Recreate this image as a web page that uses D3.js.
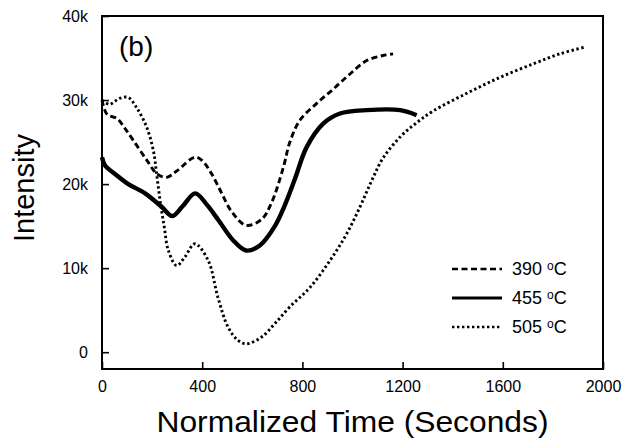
<!DOCTYPE html>
<html>
<head>
<meta charset="utf-8">
<script src="https://cdn.jsdelivr.net/npm/d3@7"></script>
<style>
  body { margin: 0; background: #fff; }
  svg { display: block; font-family: "Liberation Sans", Arial, Helvetica, sans-serif; }
  .axis text { font-size: 16px; fill: #000; }
  .axis line { stroke: #000; stroke-width: 1.6; }
</style>
</head>
<body>
<div id="chart"></div>
<script>
// ---- Data ----
const seriesNames = ['390 \u00B0C', '455 \u00B0C', '505 \u00B0C'];

// 390 oC (dashed)
const time390 = [0, 20, 60, 90, 125, 180, 220, 258, 300, 371, 400, 438, 478, 518, 575, 637, 677, 724, 750, 790, 857, 923, 990, 1057, 1122, 1162];
const int390  = [30000, 28300, 27800, 26700, 25200, 22800, 21200, 20800, 21600, 23200, 22800, 21200, 18900, 16700, 15100, 15800, 17800, 22000, 25000, 27600, 29600, 31300, 33100, 34700, 35300, 35500];

// 455 oC (solid)
const time455 = [0, 12, 52, 105, 172, 238, 280, 320, 372, 420, 465, 524, 575, 630, 690, 730, 770, 817, 883, 950, 1057, 1190, 1256];
const int455  = [23200, 22200, 21200, 20000, 18900, 17300, 16200, 17300, 18900, 17500, 15700, 13300, 12100, 12700, 15000, 17500, 20600, 24400, 27200, 28400, 28800, 28800, 28200];

// 505 oC (dotted)
const time505 = [0, 30, 70, 105, 140, 178, 205, 218, 232, 248, 265, 298, 330, 371, 424, 463, 503, 543, 577, 637, 690, 750, 830, 910, 977, 1030, 1075, 1122, 1190, 1256, 1322, 1456, 1589, 1721, 1828, 1928];
const int505  = [30000, 29500, 30200, 30300, 29000, 26800, 24000, 21200, 18000, 15000, 12100, 10300, 11300, 12900, 10900, 6500, 3000, 1400, 1000, 1800, 3400, 5400, 7700, 10900, 14100, 17300, 20300, 23100, 25600, 27300, 28700, 30800, 32700, 34300, 35500, 36300];

const xTicks = [0, 400, 800, 1200, 1600, 2000];
const yTicks = [0, 10000, 20000, 30000, 40000];

// ---- Layout ----
const width = 637, height = 440;
const plot = { left: 102, right: 603, top: 16, bottom: 369 };

const svg = d3.select('#chart')
    .append('svg')
    .attr('width', width)
    .attr('height', height);

const xScale = d3.scaleLinear().domain([0, 2000]).range([plot.left, plot.right]);
const yScale = d3.scaleLinear().domain([-2000, 40000]).range([plot.bottom, plot.top]);

// Axes (ticks point inward)
const xAxis = d3.axisBottom(xScale)
    .tickValues(xTicks)
    .tickSize(-7)
    .tickPadding(12)
    .tickFormat(d3.format('d'));

const yAxis = d3.axisLeft(yScale)
    .tickValues(yTicks)
    .tickSize(-7)
    .tickPadding(14)
    .tickFormat(d => d === 0 ? '0' : (d / 1000) + 'k');

svg.append('g')
    .attr('class', 'axis')
    .attr('transform', 'translate(0,' + plot.bottom + ')')
    .call(xAxis)
    .call(g => g.select('.domain').remove());

svg.append('g')
    .attr('class', 'axis')
    .attr('transform', 'translate(' + plot.left + ',0)')
    .call(yAxis)
    .call(g => g.select('.domain').remove());

// Frame
svg.append('rect')
    .attr('x', plot.left)
    .attr('y', plot.top)
    .attr('width', plot.right - plot.left)
    .attr('height', plot.bottom - plot.top)
    .attr('fill', 'none')
    .attr('stroke', '#000')
    .attr('stroke-width', 2);

// Lines
const lineGen = d3.line()
    .x(d => xScale(d[0]))
    .y(d => yScale(d[1]))
    .curve(d3.curveCatmullRom.alpha(0.5));

const styles = [
    { dash: '6,3.5', width: 2.9 },
    { dash: null, width: 4.4 },
    { dash: '2.4,2.6', width: 2.9 }
];

const series = [
    d3.zip(time390, int390),
    d3.zip(time455, int455),
    d3.zip(time505, int505)
];

svg.selectAll('.series')
    .data(series)
    .join('path')
    .attr('class', 'series')
    .attr('d', lineGen)
    .attr('fill', 'none')
    .attr('stroke', '#000')
    .attr('stroke-width', (d, i) => styles[i].width)
    .attr('stroke-dasharray', (d, i) => styles[i].dash);

// Panel label
svg.append('text')
    .attr('x', 119)
    .attr('y', 56)
    .attr('font-size', 28)
    .text('(b)');

// Axis titles
svg.append('text')
    .attr('x', (plot.left + plot.right) / 2)
    .attr('y', 432)
    .attr('text-anchor', 'middle')
    .attr('font-size', 29)
    .attr('textLength', 392)
    .attr('lengthAdjust', 'spacingAndGlyphs')
    .text('Normalized Time (Seconds)');

svg.append('text')
    .attr('transform', 'translate(34,188) rotate(-90)')
    .attr('text-anchor', 'middle')
    .attr('font-size', 29)
    .text('Intensity');

// Legend
const legendY = [269, 298, 327];
const legend = svg.append('g');
seriesNames.forEach((name, i) => {
    legend.append('line')
        .attr('x1', 452).attr('x2', 502)
        .attr('y1', legendY[i]).attr('y2', legendY[i])
        .attr('stroke', '#000')
        .attr('stroke-width', i === 1 ? 2.8 : 2.4)
        .attr('stroke-dasharray', styles[i].dash);
    const t = legend.append('text')
        .attr('x', 512)
        .attr('y', legendY[i] + 6)
        .attr('font-size', 18);
    const parts = name.split(' ');
    t.append('tspan').text(parts[0] + ' ');
    t.append('tspan').attr('font-size', 12).attr('dy', -5).text('o');
    t.append('tspan').attr('dy', 5).text('C');
});
</script>
</body>
</html>
